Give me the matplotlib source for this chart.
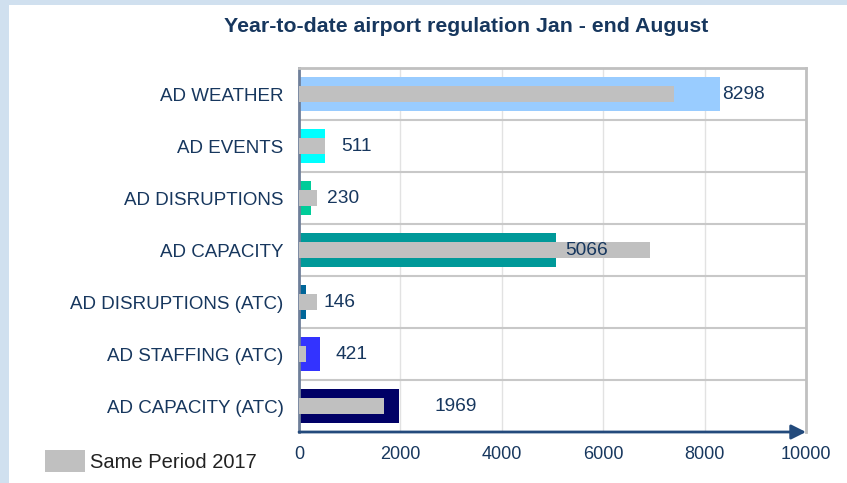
import matplotlib.pyplot as plt
from matplotlib.patches import Rectangle

plt.rcParams['font.family'] = ['Liberation Sans', 'DejaVu Sans']

categories = ['AD WEATHER', 'AD EVENTS', 'AD DISRUPTIONS', 'AD CAPACITY',
              'AD DISRUPTIONS (ATC)', 'AD STAFFING (ATC)', 'AD CAPACITY (ATC)']
values_2018 = [8298, 511, 230, 5066, 146, 421, 1969]
values_2017 = [7390, 505, 355, 6920, 350, 140, 1670]
bar_colors = ['#99ccff', '#00ffff', '#00cc99', '#009999', '#006699', '#3333ff', '#000066']
label_pad = [1.5, 12, 12, 7, 12, 11, 26]  # points right of bar end
x_ticks = [0, 2000, 4000, 6000, 8000, 10000]

text_color = '#17375e'

fig = plt.figure(figsize=(8.47, 4.83), dpi=100)
fig.patch.set_facecolor('#d0e0ef')
fig.add_artist(Rectangle((9 / 847, 0), 1, 1 - 5 / 483, transform=fig.transFigure,
                         facecolor='white', edgecolor='none', zorder=-10))

ax = fig.add_axes([299 / 847, 1 - 432 / 483, 507 / 847, 364 / 483])
ax.set_facecolor('white')

pos = list(range(len(categories)))
ax.barh(pos, values_2018, height=0.66, color=bar_colors, zorder=2)
gray = ax.barh(pos, values_2017, height=0.32, color='#c0c0c0', zorder=3,
               label='Same Period 2017')

for p, v, pad in zip(pos, values_2018, label_pad):
    ax.annotate(str(v), (v, p), xytext=(pad, 0), textcoords='offset points',
                ha='left', va='center', fontsize=13.8, color=text_color, zorder=4)

ax.set_xlim(0, 10000)
ax.set_ylim(len(categories) - 0.5, -0.5)
ax.set_xticks(x_ticks)
ax.set_xticklabels([str(t) for t in x_ticks], fontsize=13, color=text_color)
ax.set_yticks(pos)
ax.set_yticklabels(categories, fontsize=13.5, color=text_color)
ax.tick_params(axis='both', length=0)
ax.tick_params(axis='y', pad=11)
ax.tick_params(axis='x', pad=10)

# grid: vertical at ticks, horizontal between categories
for t in x_ticks[1:-1]:
    ax.axvline(t, color='#e2e2e2', lw=1, zorder=1)
for b in range(1, len(categories)):
    ax.axhline(b - 0.5, color='#c8c8c8', lw=1.5, zorder=1)

for side in ['top', 'right']:
    ax.spines[side].set_color('#c0c0c0')
    ax.spines[side].set_linewidth(2)
ax.spines['left'].set_color('#6f7f99')
ax.spines['left'].set_linewidth(2)
ax.spines['bottom'].set_visible(False)
ax.annotate('', xy=(1.0, 0), xytext=(0, 0), xycoords='axes fraction',
            arrowprops=dict(arrowstyle='-|>', color='#234a7c', lw=2, mutation_scale=22,
                            shrinkA=0, shrinkB=0),
            annotation_clip=False, zorder=5)

fig.text(466 / 847, 1 - 26 / 483, 'Year-to-date airport regulation Jan - end August',
         ha='center', va='center', fontsize=15.3, fontweight='bold', color=text_color)

fig.legend(handles=[gray], loc='center left', bbox_to_anchor=(27 / 847, 1 - 461 / 483),
           frameon=False, fontsize=14.5, handlelength=2.0, handleheight=1.25,
           handletextpad=0.25, labelcolor='#222222')

fig.savefig('out.png', dpi=100, facecolor=fig.get_facecolor())
